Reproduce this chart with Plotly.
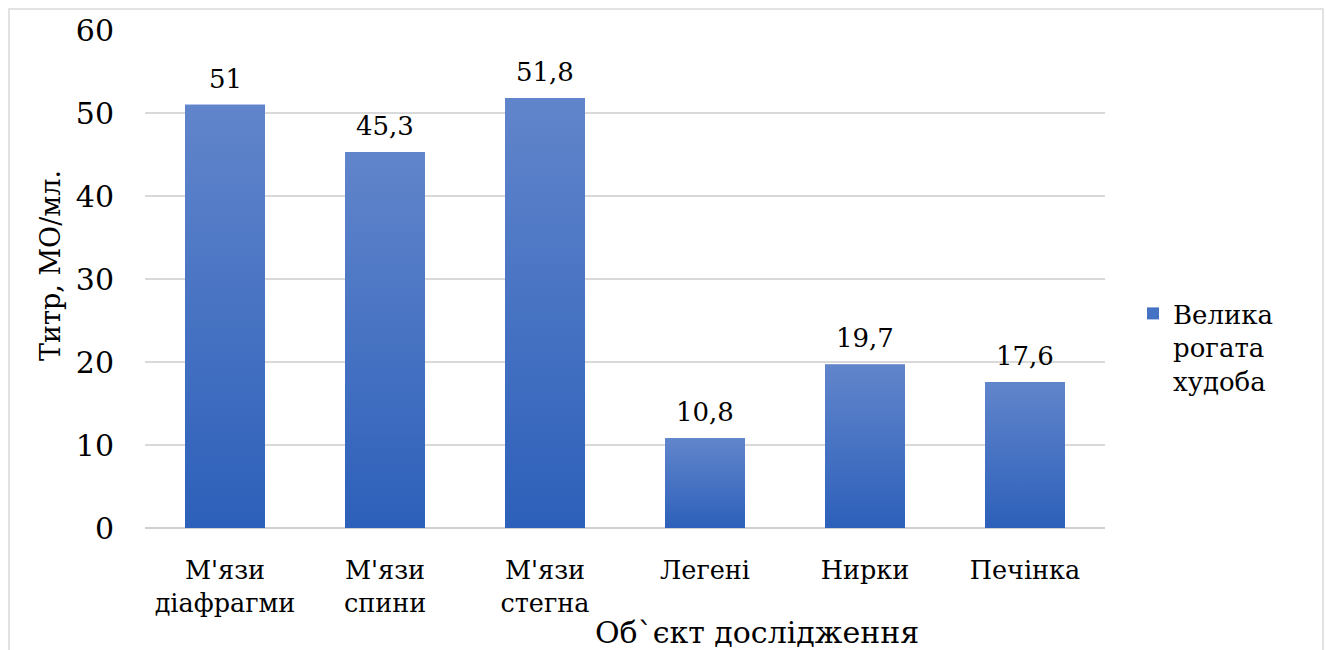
import plotly.graph_objects as go

# Titre by object of study
categories = ["М'язи<br>діафрагми", "М'язи<br>спини", "М'язи<br>стегна", "Легені", "Нирки", "Печінка"]
titre = [51, 45.3, 51.8, 10.8, 19.7, 17.6]
series_name = "Велика<br>рогата<br>худоба"
y_ticks = [0, 10, 20, 30, 40, 50, 60]

FONT = "DejaVu Serif"
BAR_TOP = "#6185CB"
BAR_BOTTOM = "#2D60BA"
BAR_MID = "#4572C3"
BAR_WIDTH = 0.5

positions = list(range(len(categories)))

fig = go.Figure()
fig.add_trace(go.Bar(
    x=positions,
    y=titre,
    name=series_name,
    width=BAR_WIDTH,
    marker=dict(color=BAR_MID, line=dict(width=0)),
    showlegend=True,
))

# vertical gradient fill laid over each bar
half = BAR_WIDTH / 2
for i, v in zip(positions, titre):
    fig.add_trace(go.Scatter(
        x=[i - half, i + half, i + half, i - half, i - half],
        y=[0, 0, v, v, 0],
        mode="lines", line=dict(width=0),
        fill="toself",
        fillgradient=dict(type="vertical", colorscale=[[0, BAR_BOTTOM], [1, BAR_TOP]]),
        hoverinfo="skip", showlegend=False,
    ))

# value labels above bars, decimal comma
for i, v in zip(positions, titre):
    label = (f"{v:g}").replace(".", ",")
    fig.add_annotation(
        x=i, y=v, text=label, showarrow=False,
        yanchor="bottom", yshift=9,
        font=dict(family=FONT, size=26, color="#000000"),
    )

# axis titles
fig.add_annotation(
    x=(757 - 145) / 960, y=(528 - 632) / 498, xref="paper", yref="paper",
    text="Об`єкт дослідження", showarrow=False,
    xanchor="center", yanchor="middle",
    font=dict(family=FONT, size=30, color="#000000"),
)
fig.add_annotation(
    x=(50 - 145) / 960, y=(528 - 266) / 498, xref="paper", yref="paper",
    text="Титр, МО/мл.", showarrow=False, textangle=-90,
    xanchor="center", yanchor="middle",
    font=dict(family=FONT, size=27, color="#000000"),
)

# chart border
fig.add_shape(
    type="rect", xref="paper", yref="paper",
    x0=(9 - 145) / 960, x1=(1323 - 145) / 960,
    y0=(528 - 670) / 498, y1=(528 - 9) / 498,
    line=dict(color="#d9d9d9", width=1.5), fillcolor="rgba(0,0,0,0)",
    layer="below",
)

fig.update_layout(
    width=1326, height=650,
    margin=dict(l=145, r=221, t=30, b=122),
    paper_bgcolor="#ffffff", plot_bgcolor="#ffffff",
    font=dict(family=FONT, color="#000000"),
    showlegend=True,
    legend=dict(
        x=(1133 - 145) / 960, y=(528 - 290) / 498,
        xanchor="left", yanchor="top",
        font=dict(family=FONT, size=26, color="#000000"),
        itemwidth=30, valign="top",
        bgcolor="rgba(0,0,0,0)",
    ),
    xaxis=dict(
        range=[-0.5, len(categories) - 0.5],
        tickvals=positions, ticktext=categories,
        showgrid=False, showline=False, ticks="", zeroline=False,
        tickfont=dict(family=FONT, size=25.5, color="#000000"),
        ticklabelstandoff=24,
    ),
    yaxis=dict(
        range=[0, 60], tickvals=y_ticks,
        showgrid=True, gridcolor="#d9d9d9", gridwidth=1.5,
        zeroline=True, zerolinecolor="#d0d0d0", zerolinewidth=2,
        showline=False, ticks="",
        tickfont=dict(family=FONT, size=30, color="#000000"),
        ticklabelstandoff=30,
    ),
)

fig.write_html("out.html")
